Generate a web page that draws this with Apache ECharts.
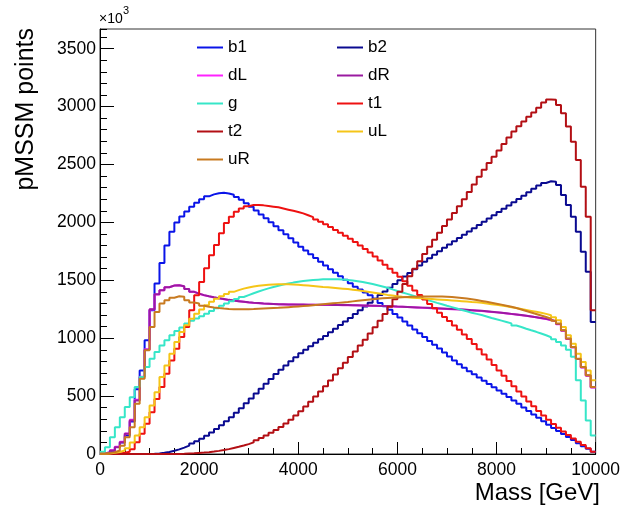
<!DOCTYPE html>
<html><head><meta charset="utf-8">
<script src="https://cdn.jsdelivr.net/npm/echarts@6/dist/echarts.min.js"></script>
<style>html,body{margin:0;padding:0;background:#fff}#c{width:623px;height:511px}</style>
</head><body><div id="c"></div>
<script>
// Histogram: 100 bins of 100 GeV from 0 to 10000 GeV (values in units of 10^3)
const binWidth = 100;
const xTickLabels = ['0','2000','4000','6000','8000','10000'];
const yTickLabels = ['0','500','1000','1500','2000','2500','3000','3500'];

const b1 = [5,15,30,60,100,160,280,560,722,982,
1241,1472,1650,1800,1920,2000,2050,2095,2135,2170,
2200,2225,2242,2252,2255,2250,2238,2220,2195,2165,
2135,2102,2068,2035,2001,1967,1933,1898,1862,1826,
1790,1757,1724,1692,1660,1628,1595,1565,1535,1505,
1475,1445,1420,1395,1370,1340,1305,1275,1245,1210,
1178,1145,1110,1076,1042,1010,976,943,910,876,
842,808,776,745,715,688,660,632,605,577,
548,520,492,463,433,402,372,342,312,282,
252,225,198,172,146,120,92,68,45,20];

const b2 = [0,0,0,0,0,0,0,0,0,1,
2,5,10,18,28,40,55,72,90,110,
132,158,186,216,248,282,318,356,396,438,
480,522,564,606,648,690,728,765,800,835,
870,900,930,960,990,1020,1051,1082,1113,1144,
1175,1208,1241,1274,1307,1340,1372,1404,1436,1468,
1500,1532,1564,1596,1628,1660,1690,1720,1750,1780,
1810,1838,1866,1894,1922,1950,1978,2006,2034,2062,
2090,2118,2146,2174,2202,2230,2260,2290,2318,2340,
2355,2350,2322,2236,2150,2048,1919,1746,1573,1140];

const dL = [5,12,32,62,105,178,295,468,668,905,
1248,1378,1414,1440,1454,1457,1447,1424,1401,1384,
1371,1361,1352,1344,1337,1330,1324,1319,1314,1309,
1305,1302,1299,1297,1295,1293,1292,1291,1290,1289,
1289,1288,1288,1287,1287,1287,1286,1286,1285,1285,
1284,1283,1282,1281,1280,1279,1278,1276,1274,1272,
1271,1269,1267,1265,1263,1261,1259,1257,1255,1253,
1251,1249,1247,1244,1241,1238,1235,1231,1227,1223,
1219,1214,1209,1204,1199,1193,1187,1180,1173,1166,
1157,1145,1121,1065,994,921,820,748,676,575];

const dR = [5,10,30,59,102,174,290,462,664,900,
1250,1380,1415,1440,1455,1458,1448,1425,1400,1385,
1372,1362,1353,1345,1338,1331,1325,1320,1315,1310,
1306,1303,1300,1298,1296,1294,1293,1292,1291,1290,
1290,1289,1289,1288,1288,1288,1287,1287,1286,1286,
1285,1284,1283,1282,1281,1280,1279,1277,1275,1273,
1272,1270,1268,1266,1264,1262,1260,1258,1256,1254,
1252,1250,1248,1245,1242,1239,1236,1232,1228,1224,
1220,1215,1210,1205,1200,1194,1188,1181,1174,1167,
1158,1146,1122,1066,995,922,821,749,677,576];

const g = [20,59,145,232,318,405,491,578,664,751,
823,881,938,982,1025,1063,1092,1126,1150,1170,
1190,1212,1235,1258,1280,1300,1320,1338,1356,1372,
1388,1403,1417,1430,1442,1453,1463,1472,1480,1487,
1493,1498,1502,1505,1508,1510,1510,1509,1507,1503,
1498,1492,1485,1477,1468,1458,1447,1435,1422,1408,
1395,1383,1370,1357,1344,1331,1318,1305,1293,1280,
1268,1256,1244,1232,1220,1210,1200,1188,1175,1163,
1152,1140,1128,1110,1097,1082,1068,1055,1040,1025,
1008,990,968,938,900,840,636,463,290,160];

const t1 = [0,0,2,5,10,20,40,102,174,261,
361,476,578,693,808,909,1010,1097,1241,1371,
1486,1604,1717,1804,1907,1994,2048,2092,2120,2140,
2150,2150,2147,2142,2136,2130,2120,2110,2100,2090,
2078,2062,2045,2025,2005,1985,1960,1935,1910,1885,
1858,1830,1800,1770,1740,1705,1670,1635,1600,1565,
1530,1492,1452,1412,1372,1334,1296,1258,1220,1184,
1148,1110,1072,1032,992,950,905,860,815,768,
722,676,630,584,540,496,454,412,372,333,
296,260,226,194,163,134,106,78,50,20];

const t2 = [0,0,0,0,0,0,0,0,0,0,
0,0,0,0,0,1,2,4,6,9,
12,16,21,27,34,42,52,62,73,85,
100,118,138,160,184,208,234,264,296,332,
370,410,452,496,540,586,634,686,740,788,
837,886,936,987,1040,1094,1150,1210,1272,1336,
1402,1468,1534,1600,1664,1727,1789,1850,1910,1968,
2025,2082,2140,2200,2262,2328,2394,2455,2512,2566,
2620,2678,2733,2784,2830,2872,2912,2950,2990,3035,
3062,3060,3014,2943,2827,2697,2539,2308,2048,1241];

const uL = [2,5,10,18,30,50,100,159,232,318,
419,534,664,765,866,967,1054,1112,1169,1212,
1247,1285,1315,1340,1362,1382,1400,1415,1428,1438,
1446,1452,1457,1461,1464,1466,1466,1465,1463,1461,
1458,1455,1451,1447,1443,1440,1436,1432,1428,1424,
1419,1414,1408,1402,1395,1388,1381,1374,1368,1362,
1357,1353,1350,1347,1344,1341,1338,1335,1332,1329,
1326,1323,1320,1317,1313,1310,1306,1300,1294,1288,
1282,1275,1268,1260,1252,1244,1236,1228,1219,1210,
1198,1180,1154,1097,1025,953,866,795,722,636];

const uR = [3,8,15,30,72,145,232,433,650,895,
1097,1226,1299,1328,1350,1362,1357,1328,1308,1299,
1280,1272,1265,1260,1256,1253,1251,1250,1250,1251,
1252,1254,1256,1258,1260,1262,1265,1268,1271,1274,
1277,1281,1285,1289,1293,1297,1301,1305,1309,1313,
1318,1323,1328,1333,1337,1341,1344,1347,1350,1352,
1354,1356,1357,1358,1359,1360,1360,1360,1359,1357,
1355,1352,1348,1343,1337,1330,1322,1314,1306,1298,
1290,1281,1271,1260,1248,1235,1222,1209,1196,1183,
1168,1150,1126,1068,997,924,823,751,679,578];

const seriesNames = ['b1','b2','dL','dR','g','t1','t2','uL','uR'];
const seriesValues = [b1,b2,dL,dR,g,t1,t2,uL,uR];
const seriesColors = ['#0a14e8','#0a0a90','#ff22ff','#9a1aa0','#36e6c8','#ee1111','#b30f14','#f5c518','#c87a20'];

const FONT = 'Liberation Sans, Arial, Helvetica, sans-serif';

function toSteps(vals){
  const pts = vals.map((v,i)=>[i*binWidth, v]);
  pts.push([vals.length*binWidth, vals[vals.length-1]]);
  return pts;
}

const chart = echarts.init(document.getElementById('c'), null, {renderer:'canvas'});
const grid = {left:100, right:23, top:29, bottom:57, show:true, borderColor:'#333', borderWidth:1, backgroundColor:'transparent'};

const legendText = {fontSize:17, lineHeight:16, color:'#000', fontFamily:FONT};

const option = {
  animation:false,
  backgroundColor:'#fff',
  grid: grid,
  xAxis: [{
    type:'value', min:0, max:10000, interval:2000,
    axisLine:{show:true, onZero:false, lineStyle:{color:'#000', width:1}},
    axisTick:{show:true, inside:true, length:12, lineStyle:{color:'#000'}},
    minorTick:{show:true, splitNumber:4, length:6, lineStyle:{color:'#000'}},
    splitLine:{show:false}, minorSplitLine:{show:false},
    axisLabel:{color:'#000', fontSize:17.5, fontFamily:FONT, margin:7,
      formatter:(v)=>{ const s=String(v); return xTickLabels.indexOf(s)>=0 ? s : ''; }}
  }],
  yAxis: [{
    type:'value', min:0, max:3670, interval:500,
    axisLine:{show:true, onZero:false, lineStyle:{color:'#000', width:1}},
    axisTick:{show:true, inside:true, length:14, lineStyle:{color:'#000'}},
    splitLine:{show:false},
    axisLabel:{color:'#000', fontSize:17.5, fontFamily:FONT, margin:4, showMaxLabel:false,
      formatter:(v)=>{ const s=String(v); return yTickLabels.indexOf(s)>=0 ? s : ''; }}
  },{
    type:'value', min:0, max:3670, interval:100, position:'left',
    axisLine:{show:false}, axisLabel:{show:false}, splitLine:{show:false},
    axisTick:{show:true, inside:true, length:7, lineStyle:{color:'#000'}}
  }],
  legend: [{
    data:['b1','dL','g','t2','uR'], orient:'vertical', left:192, top:34,
    icon:'rect', itemWidth:26, itemHeight:2, itemGap:11,
    textStyle:legendText
  },{
    data:['b2','dR','t1','uL'], orient:'vertical', left:332, top:34,
    icon:'rect', itemWidth:26, itemHeight:2, itemGap:11,
    textStyle:legendText
  }],
  series: seriesNames.map((n,k)=>({
    name:n, type:'line', step:'end', showSymbol:false, symbol:'none',
    data: toSteps(seriesValues[k]),
    color: seriesColors[k],
    lineStyle:{width:2, color:seriesColors[k]},
    emphasis:{disabled:true}
  })),
  graphic: [
    {type:'text', x:99, y:26, style:{text:'\u00d710', font:'14px '+FONT, fill:'#000', textAlign:'left', textVerticalAlign:'bottom'}},
    {type:'text', x:123, y:16, style:{text:'3', font:'11px '+FONT, fill:'#000', textAlign:'left', textVerticalAlign:'bottom'}},
    {type:'text', x:600, y:493, style:{text:'Mass [GeV]', font:'24px '+FONT, fill:'#000', textAlign:'right', textVerticalAlign:'middle'}},
    {type:'text', x:26, y:28, rotation:Math.PI/2, style:{text:'pMSSM points', font:'25px '+FONT, fill:'#000', textAlign:'right', textVerticalAlign:'middle'}}
  ]
};
chart.setOption(option);
</script>
</body></html>
